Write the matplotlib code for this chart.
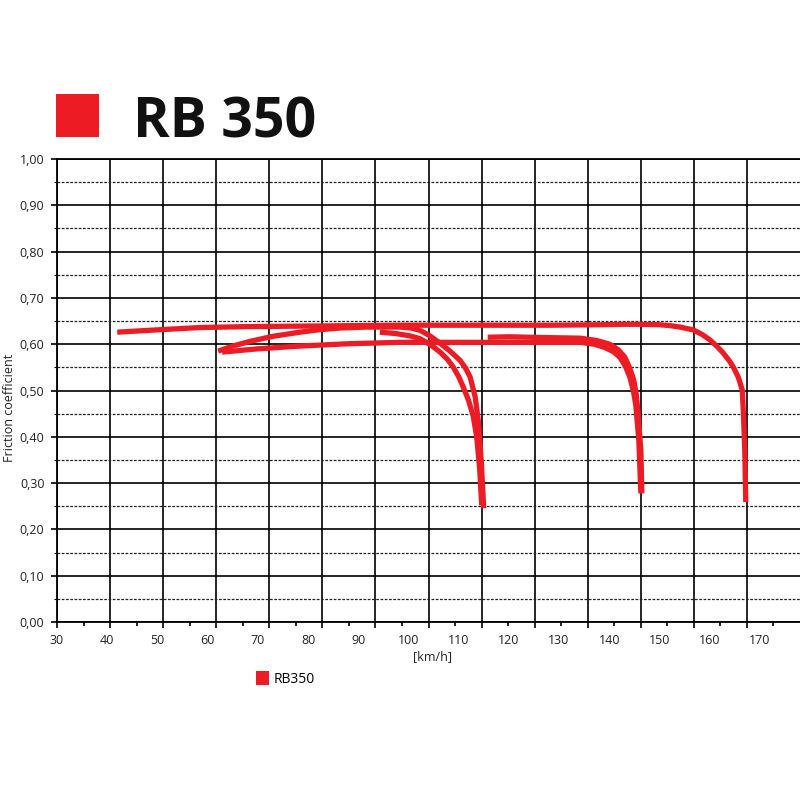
import matplotlib
matplotlib.use("Agg")
import matplotlib.pyplot as plt
from matplotlib.patches import Patch, Rectangle
from matplotlib.ticker import MultipleLocator, FixedLocator

plt.rcParams['font.family'] = ['Open Sans', 'DejaVu Sans']

RED = '#ED1C24'

c1_speed = [42.0, 50.0, 58.5, 68.0, 78.4, 88.0, 98.3, 108.0, 118.2, 128.0, 138.1, 143.0,
            146.1, 150.1, 152.2, 154.1, 156.7, 158.5, 160.1, 161.5, 162.7, 163.8, 164.7,
            165.7, 166.5, 166.7, 167.0, 167.2]
c1_mu = [0.626, 0.631, 0.636, 0.638, 0.639, 0.640, 0.641, 0.641, 0.641, 0.641, 0.642, 0.643,
         0.643, 0.642, 0.640, 0.637, 0.631, 0.621, 0.609, 0.595, 0.581, 0.566, 0.551,
         0.529, 0.501, 0.457, 0.371, 0.259]

c2_speed = [62.1, 65.0, 68.4, 73.0, 78.4, 82.0, 86.4, 91.7, 98.3, 100.5, 102.3, 104.3,
            106.3, 108.3, 110.3, 111.4, 112.3, 113.3, 113.9, 114.5, 115.0]
c2_mu = [0.585, 0.596, 0.606, 0.617, 0.626, 0.631, 0.635, 0.637, 0.637, 0.635, 0.630, 0.618,
         0.602, 0.585, 0.565, 0.548, 0.529, 0.486, 0.436, 0.349, 0.246]

c3_speed = [94.3, 97.5, 100.3, 102.3, 104.5, 106.3, 107.8, 108.9, 110.0, 110.9, 112.0,
            112.9, 113.6, 114.2, 114.6]
c3_mu = [0.626, 0.623, 0.618, 0.612, 0.598, 0.583, 0.567, 0.551, 0.530, 0.508, 0.478,
         0.445, 0.400, 0.330, 0.252]

c4_speed = [62.9, 70.0, 78.4, 88.0, 98.3, 108.0, 118.2, 126.0, 134.2, 137.0, 139.1, 140.8,
            142.1, 143.2, 144.1, 144.8, 145.3, 145.9, 146.3]
c4_mu = [0.583, 0.590, 0.596, 0.601, 0.604, 0.604, 0.604, 0.604, 0.604, 0.600, 0.593, 0.584,
         0.572, 0.553, 0.529, 0.500, 0.468, 0.392, 0.278]

c5_speed = [115.8, 120.0, 124.2, 129.0, 134.2, 137.5, 140.1, 141.8, 143.1, 144.1, 144.9,
            145.4, 145.7, 146.3, 146.5]
c5_mu = [0.615, 0.616, 0.615, 0.614, 0.613, 0.608, 0.600, 0.588, 0.572, 0.548, 0.522,
         0.490, 0.457, 0.371, 0.278]

curves = [(c1_speed, c1_mu), (c2_speed, c2_mu), (c3_speed, c3_mu),
          (c4_speed, c4_mu), (c5_speed, c5_mu)]

x_ticks = list(range(30, 171, 10))
y_ticks = [i / 10 for i in range(11)]
y_ticklabels = ['%.2f' % v for v in y_ticks]
y_ticklabels = [s.replace('.', ',') for s in y_ticklabels]

title = 'RB 350'
legend_label = 'RB350'
x_label = '[km/h]'
y_label = 'Friction coefficient'

# ---- figure ----
fig = plt.figure(figsize=(8, 8), dpi=100)
ax = fig.add_axes([57 / 800, 1 - 622 / 800, 743 / 800, 463 / 800])

# grid axis carrying the vertical lines (14 equal divisions)
gx = ax.twiny()
gx.set_xlim(0, 14)
gx.xaxis.set_major_locator(FixedLocator(range(14)))
gx.xaxis.set_minor_locator(FixedLocator([i + 0.5 for i in range(14)]))
gx.xaxis.set_ticks_position('bottom')
gx.tick_params(axis='x', which='major', direction='out', length=4, width=1.2,
               color='black', labelbottom=False, labeltop=False)
gx.tick_params(axis='x', which='minor', direction='out', length=3, width=1.2,
               color='black', labelbottom=False, labeltop=False)
gx.grid(True, axis='x', which='major', color='black', lw=1.2)
for s in gx.spines.values():
    s.set_visible(False)
gx.set_zorder(1)
ax.set_zorder(2)
ax.patch.set_visible(False)

ax.set_xlim(30, 178)
ax.set_ylim(0, 1)
ax.set_xticks(x_ticks)
ax.set_xticklabels([str(v) for v in x_ticks])
ax.set_yticks(y_ticks)
ax.set_yticklabels(y_ticklabels)
ax.yaxis.set_minor_locator(MultipleLocator(0.05))
ax.tick_params(axis='x', length=0, pad=9, labelsize=9, colors='#222222')
ax.tick_params(axis='y', which='major', direction='out', length=4, width=1.2,
               color='black', pad=5, labelsize=9, labelcolor='#222222')
ax.tick_params(axis='y', which='minor', length=2, width=0.8, color='black')
ax.grid(True, axis='y', which='major', color='black', lw=1.2)
ax.grid(True, axis='y', which='minor', color='#222222', lw=0.9, ls=(0, (2.2, 1.2)))
ax.spines['right'].set_visible(False)
for k in ('left', 'bottom', 'top'):
    ax.spines[k].set_linewidth(1.3)
    ax.spines[k].set_color('black')

for sp, mu in curves:
    ax.plot(sp, mu, color=RED, lw=3.8, solid_capstyle='butt', solid_joinstyle='round',
            zorder=3)

fig.text(10 / 800, 1 - 408 / 800, y_label, rotation=90, ha='center', va='center',
         fontsize=9, color='#222222')
fig.text(432 / 800, 1 - 657 / 800, x_label, ha='center', va='center',
         fontsize=9, color='#222222')

# title block
fig.patches.append(Rectangle((56 / 800, 1 - 137 / 800), 43 / 800, 43 / 800,
                             transform=fig.transFigure, color=RED, lw=0))
fig.text(133 / 800, 1 - 137 / 800, title, ha='left', va='baseline', fontsize=40,
         fontweight='bold', color='#111111')

# legend
fig.legend(handles=[Patch(facecolor=RED, edgecolor='none', label=legend_label)],
           loc='center left', bbox_to_anchor=(256 / 800, 1 - 679 / 800),
           frameon=False, borderpad=0, borderaxespad=0, handlelength=0.9,
           handleheight=1.2, handletextpad=0.35, fontsize=10)

fig.savefig('out.png', dpi=100)
